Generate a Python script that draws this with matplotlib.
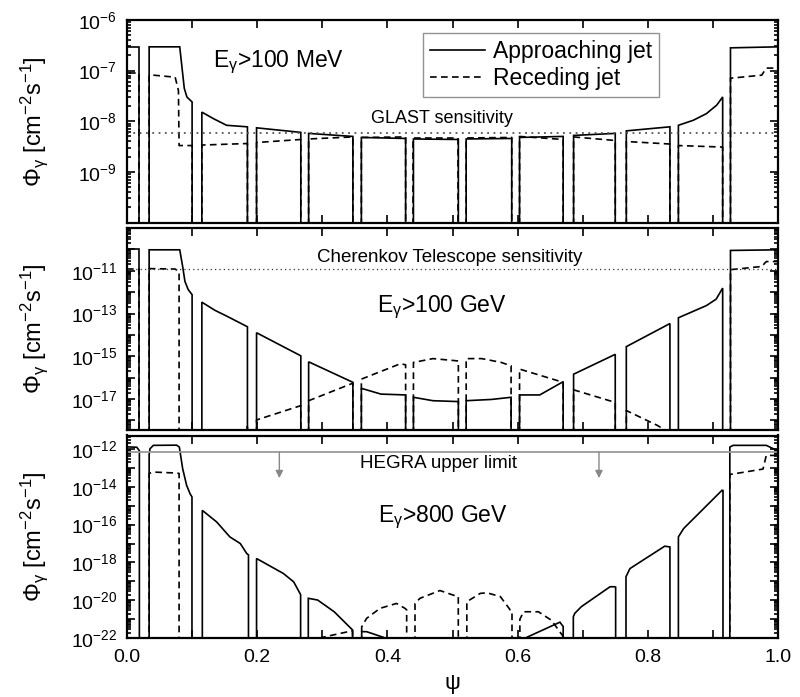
import numpy as np
import matplotlib
matplotlib.use("Agg")
import matplotlib.pyplot as plt
from matplotlib.ticker import FixedLocator, LogLocator, FuncFormatter, NullFormatter, MultipleLocator
from matplotlib.lines import Line2D

plt.rcParams['font.family'] = ['Liberation Sans', 'DejaVu Sans']
plt.rcParams['mathtext.fontset'] = 'custom'
plt.rcParams['mathtext.rm'] = 'Liberation Sans'
plt.rcParams['mathtext.it'] = 'Liberation Sans:italic'
plt.rcParams['mathtext.bf'] = 'Liberation Sans:bold'
plt.rcParams['mathtext.sf'] = 'Liberation Sans'

# ---------------- data (psi, log10 flux) ----------------
# Panel 1: E > 100 MeV
app_100MeV = [
    ([0.0, 0.019], [-6.53, -6.53]),
    ([0.034, 0.081, 0.088, 0.092, 0.100], [-6.53, -6.53, -7.35, -7.52, -7.62]),
    ([0.115, 0.133, 0.153, 0.185], [-7.82, -7.95, -8.08, -8.11]),
    ([0.199, 0.267], [-8.13, -8.22]),
    ([0.279, 0.347], [-8.24, -8.30]),
    ([0.360, 0.428], [-8.32, -8.34]),
    ([0.440, 0.509], [-8.35, -8.36]),
    ([0.521, 0.591], [-8.35, -8.34]),
    ([0.603, 0.670], [-8.32, -8.30]),
    ([0.686, 0.750], [-8.28, -8.24]),
    ([0.767, 0.834], [-8.19, -8.11]),
    ([0.847, 0.870, 0.890, 0.906, 0.915], [-8.08, -7.98, -7.85, -7.68, -7.52]),
    ([0.927, 1.0], [-6.55, -6.53]),
]
rec_100MeV = [
    ([0.0, 0.019], [-7.05, -7.05]),
    ([0.034, 0.041, 0.074, 0.079, 0.080, 0.100], [-7.09, -7.09, -7.13, -7.39, -8.48, -8.48]),
    ([0.115, 0.185], [-8.47, -8.44]),
    ([0.199, 0.267], [-8.42, -8.36]),
    ([0.279, 0.347], [-8.35, -8.31]),
    ([0.360, 0.428], [-8.32, -8.31]),
    ([0.440, 0.509], [-8.33, -8.33]),
    ([0.521, 0.591], [-8.33, -8.32]),
    ([0.603, 0.670], [-8.30, -8.36]),
    ([0.686, 0.750], [-8.31, -8.38]),
    ([0.767, 0.834], [-8.40, -8.45]),
    ([0.847, 0.915], [-8.48, -8.51]),
    ([0.927, 0.975, 0.982, 1.0], [-7.15, -7.09, -6.95, -6.95]),
]
glast_sensitivity = -8.23

# Panel 2: E > 100 GeV
app_100GeV = [
    ([0.0, 0.019], [-10.0, -10.0]),
    ([0.034, 0.081, 0.0855, 0.089, 0.094, 0.100], [-10.02, -10.02, -10.8, -11.5, -11.88, -12.12]),
    ([0.115, 0.135, 0.153, 0.185], [-12.47, -12.85, -13.12, -13.62]),
    ([0.199, 0.267], [-13.9, -14.98]),
    ([0.279, 0.347], [-15.26, -16.22]),
    ([0.360, 0.39, 0.428], [-16.5, -16.77, -16.81]),
    ([0.440, 0.47, 0.509], [-16.92, -17.08, -17.12]),
    ([0.521, 0.56, 0.590], [-17.08, -17.02, -16.92]),
    ([0.603, 0.634, 0.670], [-16.81, -16.81, -16.19]),
    ([0.686, 0.750], [-15.84, -14.91]),
    ([0.767, 0.834], [-14.55, -13.47]),
    ([0.847, 0.890, 0.905, 0.915], [-13.20, -12.63, -12.33, -11.81]),
    ([0.927, 1.0], [-10.05, -10.02]),
]
rec_100GeV = [
    ([0.0, 0.019], [-10.9, -10.9]),
    ([0.034, 0.074, 0.080], [-10.9, -10.92, -11.05]),
    ([0.17, 0.185], [-18.6, -18.3]),
    ([0.199, 0.267], [-17.98, -17.31]),
    ([0.279, 0.347], [-17.08, -16.26]),
    ([0.360, 0.42, 0.428], [-16.07, -15.35, -15.4]),
    ([0.440, 0.47, 0.509], [-15.29, -15.11, -15.22]),
    ([0.521, 0.545, 0.575, 0.590], [-15.11, -15.11, -15.29, -15.45]),
    ([0.603, 0.670], [-15.60, -16.22]),
    ([0.686, 0.750], [-16.57, -17.16]),
    ([0.767, 0.815, 0.834], [-17.54, -18.24, -18.6]),
    ([0.927, 0.975, 0.982, 1.0], [-10.95, -10.80, -10.57, -10.57]),
]
cherenkov_sensitivity = -10.92

# Panel 3: E > 800 GeV
app_800GeV = [
    ([0.0, 0.015, 0.019], [-11.9, -11.92, -12.1]),
    ([0.034, 0.0353, 0.0405, 0.0763, 0.0804, 0.0855, 0.0916, 0.0968, 0.0998],
     [-12.3, -12.0, -11.82, -11.81, -11.91, -13.05, -13.93, -14.37, -14.54]),
    ([0.1157, 0.1377, 0.158, 0.174, 0.184, 0.1866], [-15.25, -15.86, -16.65, -17.0, -17.53, -17.6]),
    ([0.199, 0.2402, 0.256, 0.2657, 0.2667], [-17.79, -18.58, -19.02, -19.63, -19.7]),
    ([0.2785, 0.2928, 0.3183, 0.3388, 0.3465], [-19.89, -19.98, -20.6, -21.3, -21.56]),
    ([0.3605, 0.368, 0.394, 0.41], [-21.65, -21.65, -21.95, -22.3]),
    ([0.603, 0.614, 0.665, 0.670], [-22.2, -21.95, -21.15, -21.38]),
    ([0.6856, 0.6879, 0.698, 0.742, 0.749, 0.7506], [-20.86, -20.68, -20.33, -19.28, -19.28, -19.3]),
    ([0.7665, 0.7726, 0.826, 0.834], [-18.75, -18.32, -17.14, -17.18]),
    ([0.847, 0.855, 0.914, 0.9155], [-16.65, -16.21, -14.19, -14.2]),
    ([0.926, 0.931, 0.982, 0.993, 1.0], [-11.91, -11.82, -11.82, -12.0, -12.1]),
]
rec_800GeV = [
    ([0.034, 0.041, 0.076, 0.080], [-13.3, -13.23, -13.28, -13.3]),
    ([0.279, 0.30, 0.3465], [-22.3, -21.95, -21.6]),
    ([0.3605, 0.368, 0.3886, 0.414, 0.427, 0.4296], [-21.4, -20.95, -20.42, -20.16, -20.42, -20.5]),
    ([0.4424, 0.450, 0.4807, 0.501, 0.5089], [-20.16, -19.89, -19.48, -19.72, -19.8]),
    ([0.522, 0.5427, 0.553, 0.5735, 0.5888, 0.5914], [-20.07, -19.63, -19.6, -19.8, -20.51, -20.55]),
    ([0.6035, 0.609, 0.632, 0.652, 0.670], [-21.0, -20.6, -20.6, -21.05, -21.9]),
    ([0.926, 0.931, 0.977, 0.982, 1.0], [-13.35, -13.33, -13.07, -12.35, -12.35]),
]
hegra_limit = -12.18
hegra_arrows = [0.234, 0.725]

panel_ylims = [(-10.0, -6.0), (-18.45, -9.0), (-22.0, -11.3)]
panel_labeled = [[-6, -7, -8, -9], [-11, -13, -15, -17], [-12, -14, -16, -18, -20, -22]]
x_ticklabels = ['0.0', '0.2', '0.4', '0.6', '0.8', '1.0']

FLOOR = 1e-40

fig = plt.figure(figsize=(8.0, 6.97), dpi=100)
L, W = 127 / 800, 651 / 800
H = 697.0
rects = [(20, 222.5), (228, 430), (435.5, 638.3)]
axes = []
for top, bot in rects:
    ax = fig.add_axes([L, 1 - bot / H, W, (bot - top) / H])
    axes.append(ax)


def draw(ax, segs, **kw):
    for xs, ly in segs:
        x = [xs[0]] + list(xs) + [xs[-1]]
        y = [FLOOR] + [10.0 ** v for v in ly] + [FLOOR]
        ax.plot(x, y, **kw)


solid_kw = dict(color='black', lw=1.2, solid_joinstyle='miter')
dash_kw = dict(color='black', lw=1.2, linestyle=(0, (4.0, 2.6)))

draw(axes[0], app_100MeV, **solid_kw)
draw(axes[0], rec_100MeV, **dash_kw)
draw(axes[1], app_100GeV, **solid_kw)
draw(axes[1], rec_100GeV, **dash_kw)
draw(axes[2], app_800GeV, **solid_kw)
draw(axes[2], rec_800GeV, **dash_kw)

axes[0].axhline(10 ** glast_sensitivity, color='#555555', lw=1.3, linestyle=(0, (1.0, 2.5)))
axes[1].axhline(10 ** cherenkov_sensitivity, color='#333333', lw=0.9, linestyle=(0, (1.0, 2.5)))
axes[2].axhline(10 ** hegra_limit, color='#9a9a9a', lw=1.3)
for xa in hegra_arrows:
    axes[2].annotate('', xy=(xa, 10 ** -13.55), xytext=(xa, 10 ** hegra_limit),
                     arrowprops=dict(arrowstyle='-|>', color='#888888', lw=1.0,
                                     mutation_scale=11, shrinkA=0, shrinkB=0))


def fmt_factory(labeled):
    def f(v, pos):
        e = int(round(np.log10(v)))
        if e in labeled:
            return r'$10^{%d}$' % e
        return ''
    return f


for i, ax in enumerate(axes):
    lo, hi = panel_ylims[i]
    ax.set_yscale('log')
    ax.set_xlim(0, 1)
    ax.set_ylim(10 ** lo, 10 ** hi)
    decades = [10.0 ** e for e in range(int(np.floor(lo)), int(np.ceil(hi)) + 1)]
    ax.yaxis.set_major_locator(FixedLocator(decades))
    ax.yaxis.set_major_formatter(FuncFormatter(fmt_factory(panel_labeled[i])))
    ax.yaxis.set_minor_locator(LogLocator(base=10, subs=np.arange(2, 10), numticks=100))
    ax.yaxis.set_minor_formatter(NullFormatter())
    ax.xaxis.set_major_locator(MultipleLocator(0.2))
    ax.xaxis.set_minor_locator(MultipleLocator(0.1))
    ax.tick_params(which='both', direction='in', top=True, right=True, width=1.2)
    ax.tick_params(which='major', axis='y', length=6, labelsize=14, pad=7)
    ax.tick_params(which='minor', axis='y', length=3)
    ax.tick_params(which='both', axis='x', length=6, labelsize=14, pad=8)
    for s in ax.spines.values():
        s.set_linewidth(1.6)
    ax.set_ylabel(r'$\Phi_{\mathrm{\gamma}}$ [cm$^{-2}$s$^{-1}$]', fontsize=17)
    ax.yaxis.set_label_coords(-0.118, 0.5)
    if i < 2:
        ax.tick_params(labelbottom=False)

axes[2].set_xticks([0.0, 0.2, 0.4, 0.6, 0.8, 1.0])
axes[2].set_xticklabels(x_ticklabels)
axes[2].set_xlabel('ψ', fontsize=16, labelpad=5)

sub = r'E$_{\mathrm{\gamma}}$'
axes[0].text(0.132, 10 ** -6.83, sub + '>100 MeV', fontsize=16.5, ha='left', va='center')
axes[0].text(0.484, 10 ** -7.94, 'GLAST sensitivity', fontsize=13, ha='center', va='center')
axes[1].text(0.495, 10 ** -10.40, 'Cherenkov Telescope sensitivity', fontsize=13.5, ha='center', va='center')
axes[1].text(0.384, 10 ** -12.72, sub + '>100 GeV', fontsize=16.5, ha='left', va='center')
axes[2].text(0.478, 10 ** -12.77, 'HEGRA upper limit', fontsize=13.5, ha='center', va='center')
axes[2].text(0.386, 10 ** -15.6, sub + '>800 GeV', fontsize=16.5, ha='left', va='center')

handles = [Line2D([], [], **solid_kw), Line2D([], [], **dash_kw)]
leg = fig.legend(handles, ['Approaching jet', 'Receding jet'], loc='upper left',
                 bbox_to_anchor=(423 / 800, 1 - 33 / H), bbox_transform=fig.transFigure,
                 fontsize=16.5, frameon=True, fancybox=False, borderaxespad=0,
                 handlelength=2.4, handletextpad=0.35, labelspacing=0.2, borderpad=0.3)
leg.get_frame().set_edgecolor('#777777')
leg.get_frame().set_linewidth(1.0)

fig.savefig('out.png', dpi=100)
